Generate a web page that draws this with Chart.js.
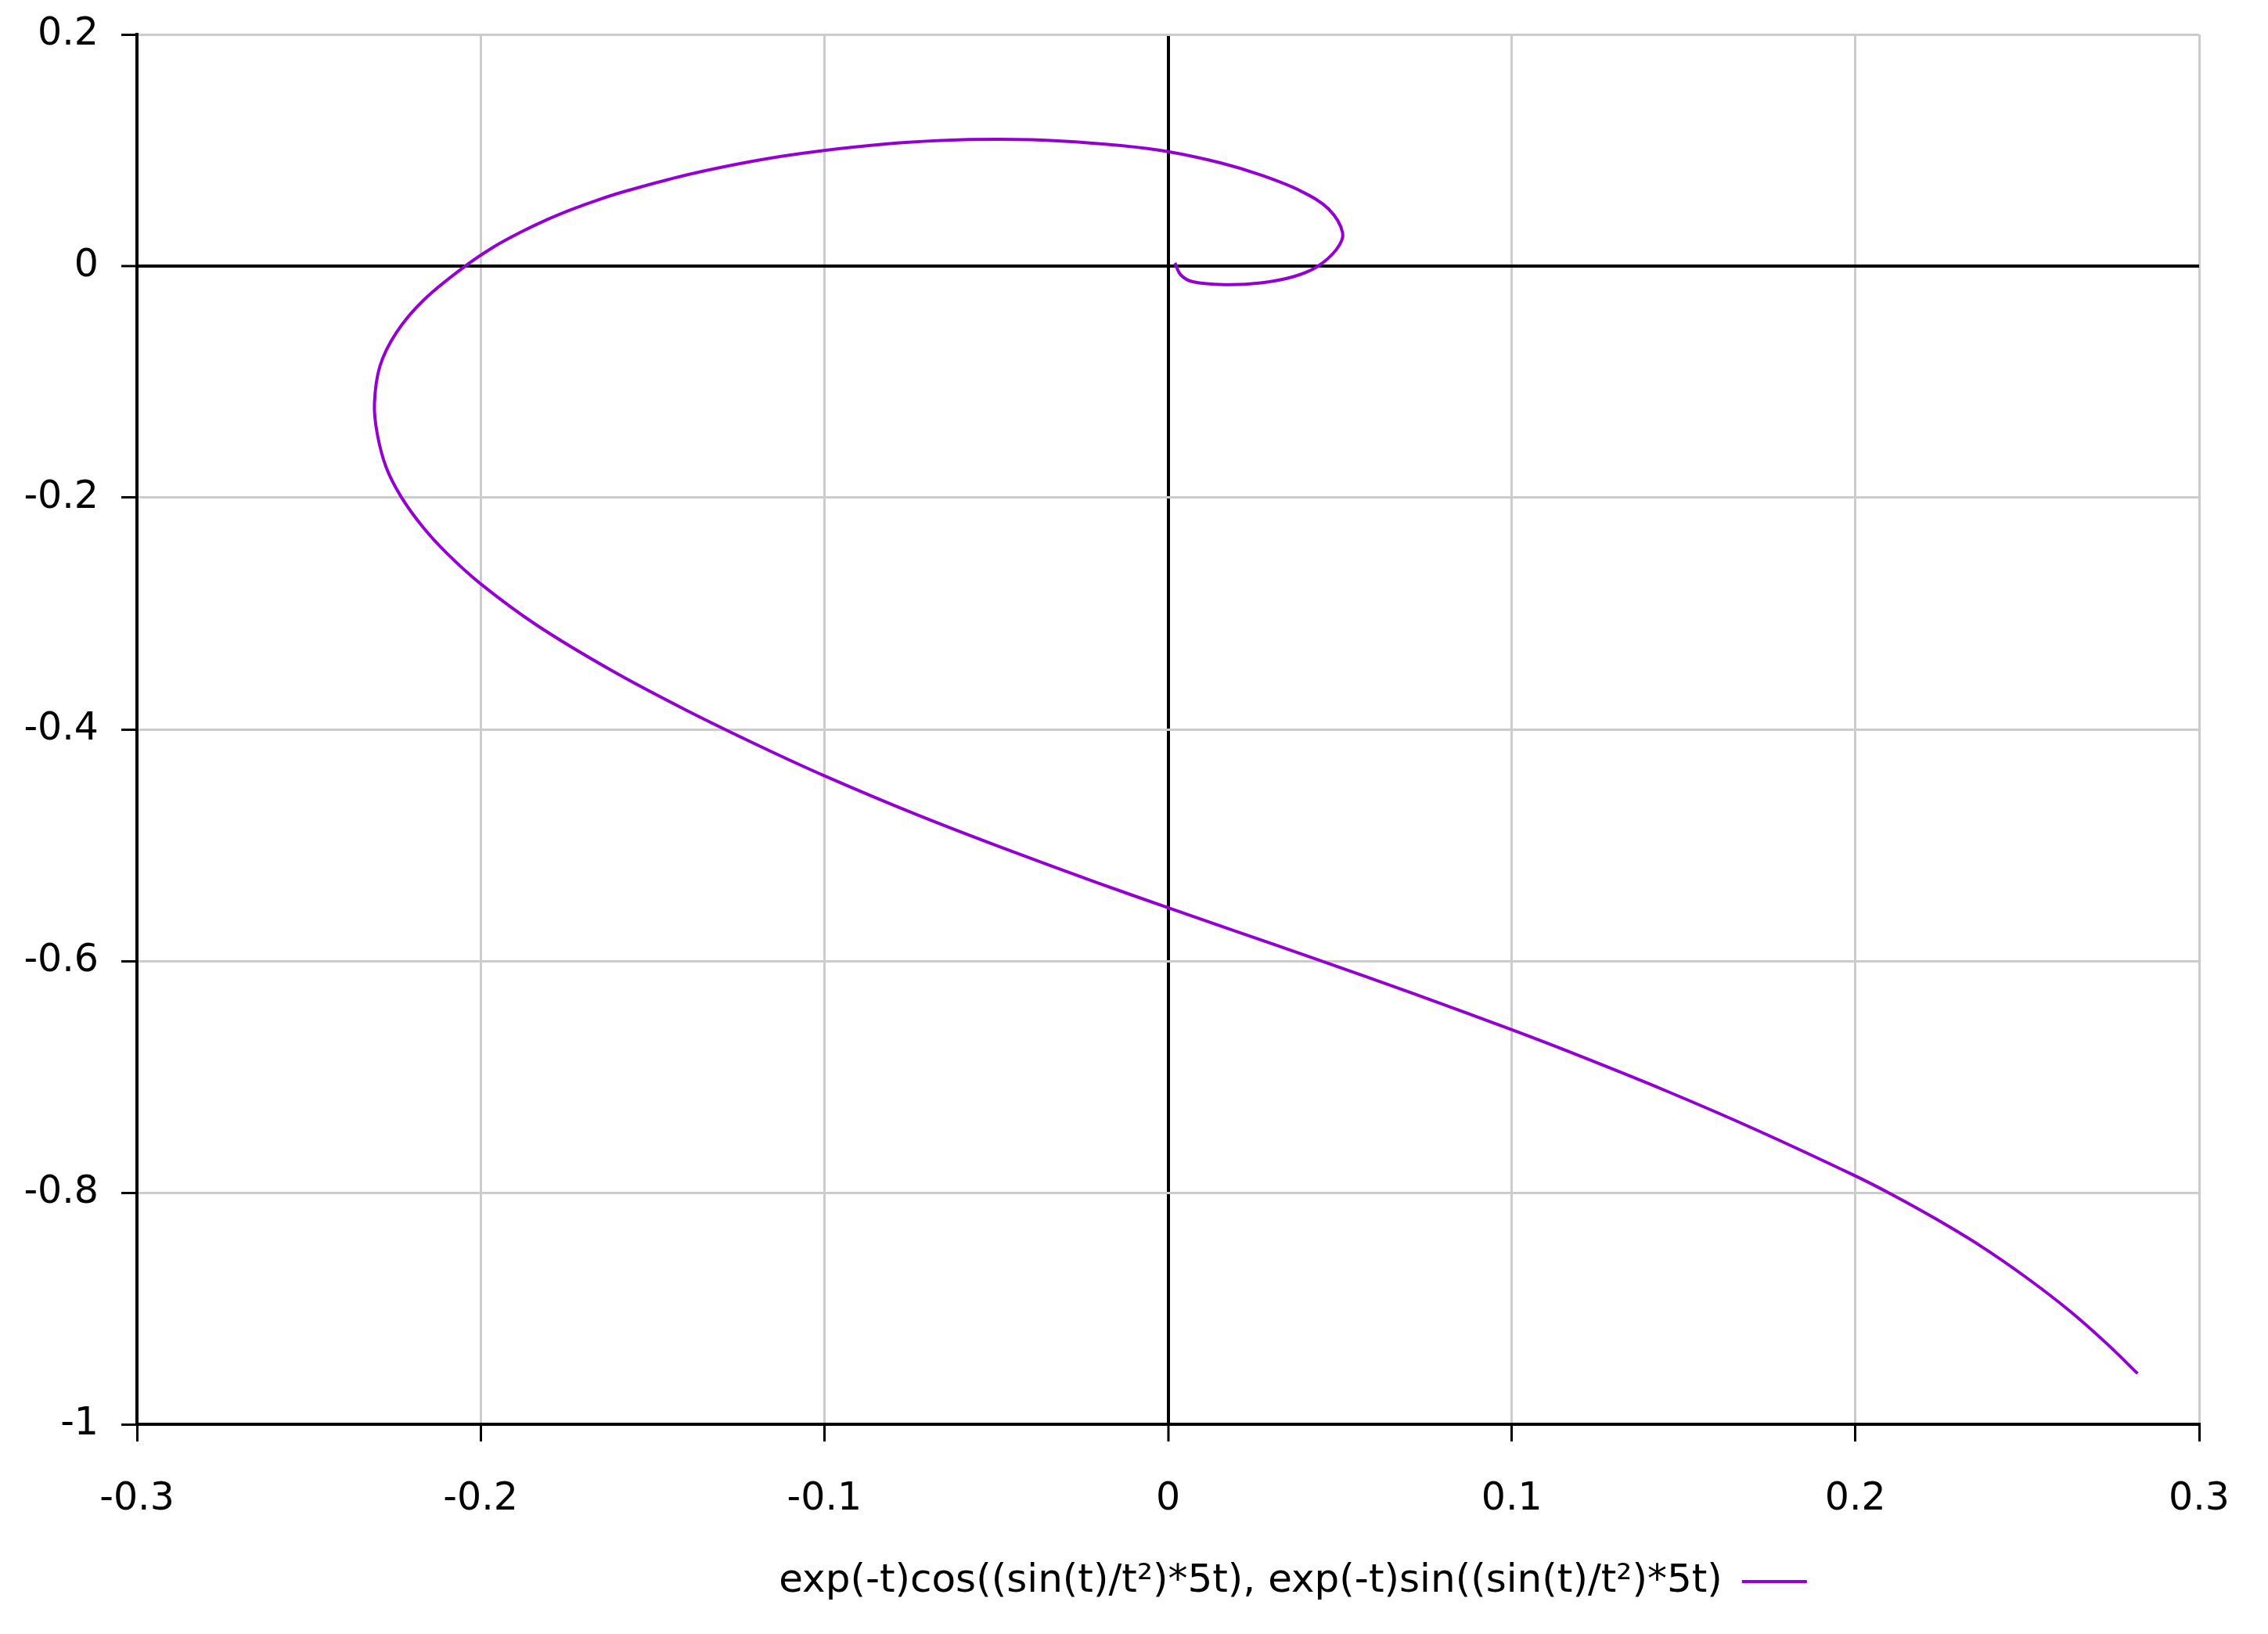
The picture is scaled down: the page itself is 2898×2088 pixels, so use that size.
<!DOCTYPE html>
<html>
<head>
<meta charset="utf-8">
<script src="https://cdn.jsdelivr.net/npm/chart.js@4.4.0/dist/chart.umd.min.js"></script>
<style>
  html, body { margin: 0; padding: 0; background: #fff; }
  #wrap { width: 2898px; height: 2088px; }
</style>
</head>
<body>
<div id="wrap"><canvas id="myChart" width="2898" height="2088"></canvas></div>
<script>
  // curve, from the far end (bottom right) into the centre
  var curveLabel = "exp(-t)cos((sin(t)/t²)*5t), exp(-t)sin((sin(t)/t²)*5t)";
  var curveX = [0.2821, 0.273, 0.2625, 0.2495, 0.2364, 0.2233, 0.2102, 0.1995, 0.171, 0.1448,
    0.1187, 0.0993, 0.0706, 0.0444, 0.0183, 0, -0.021, -0.0471, -0.0733, -0.1001,
    -0.1184, -0.1402, -0.162, -0.1838, -0.2002, -0.2098, -0.2168, -0.2232, -0.2275, -0.2301,
    -0.2309, -0.2293, -0.2245, -0.2167, -0.2048, -0.196, -0.1884, -0.1808, -0.1732, -0.1656,
    -0.158, -0.1428, -0.1277, -0.1125, -0.1, -0.0834, -0.066, -0.0486, -0.0311, -0.0137,
    0, 0.0154, 0.027, 0.0386, 0.0467, 0.0508, 0.0491, 0.0433, 0.0363, 0.027,
    0.0165, 0.0072, 0.0037, 0.002];
  var curveY = [-0.9562, -0.93, -0.9025, -0.8728, -0.846, -0.8225, -0.801, -0.7849, -0.7456, -0.712,
    -0.6807, -0.6586, -0.6273, -0.5997, -0.5729, -0.554, -0.532, -0.5035, -0.4734, -0.4399,
    -0.415, -0.3834, -0.349, -0.3098, -0.2739, -0.2481, -0.2254, -0.1989, -0.1737, -0.1446,
    -0.1187, -0.0863, -0.0573, -0.0297, -0.0007, 0.0169, 0.0292, 0.04, 0.0493, 0.0574,
    0.0645, 0.0767, 0.0866, 0.0947, 0.0999, 0.1051, 0.1084, 0.1094, 0.108, 0.104,
    0.0988, 0.089, 0.0786, 0.0648, 0.0493, 0.0286, 0.0148, -0.0007, -0.0093, -0.0145,
    -0.016, -0.0135, -0.0076, 0.0027];
  var xTicks = [-0.3, -0.2, -0.1, 0, 0.1, 0.2, 0.3];
  var yTicks = [-1, -0.8, -0.6, -0.4, -0.2, 0, 0.2];

  var points = curveX.map(function (x, i) { return { x: x, y: curveY[i] }; });

  Chart.defaults.font.family = "'DejaVu Sans', sans-serif";
  Chart.defaults.font.size = 49;
  Chart.defaults.color = "#000";

  function gridColor(ctx) { return ctx.tick && ctx.tick.value === 0 ? "#000" : "#cccccc"; }
  function gridWidth(ctx) { return ctx.tick && ctx.tick.value === 0 ? 4 : 3; }

  // gnuplot centres its key a bit right of the canvas middle
  var legendShift = {
    id: "legendShift",
    afterLayout: function (chart) {
      chart.legend.left += 247;
      chart.legend.right += 247;
    }
  };

  new Chart("myChart", {
    type: "scatter",
    data: {
      datasets: [{
        label: curveLabel,
        data: points,
        showLine: true,
        fill: false,
        borderColor: "#9400d3",
        backgroundColor: "#9400d3",
        borderWidth: 4,
        pointRadius: 0,
        tension: 0.35
      }]
    },
    options: {
      responsive: false,
      animation: false,
      layout: { padding: { top: 44, right: 88, bottom: 32, left: 0 } },
      plugins: {
        tooltip: { enabled: false },
        legend: {
          position: "bottom",
          rtl: true,
          textDirection: "ltr",
          labels: {
            usePointStyle: true,
            pointStyle: "line",
            pointStyleWidth: 83,
            padding: 10,
            color: "#000",
            font: { size: 50 }
          }
        }
      },
      scales: {
        x: {
          type: "linear",
          min: -0.3,
          max: 0.3,
          afterBuildTicks: function (s) { s.ticks = xTicks.map(function (v) { return { value: v }; }); },
          afterFit: function (s) { s.height = 166; },
          grid: { color: gridColor, lineWidth: gridWidth, tickLength: 22, tickColor: "#000", tickWidth: 3 },
          border: { color: "#000", width: 4 },
          ticks: { padding: 45, maxRotation: 0, autoSkip: false, callback: function (v) { return String(v); } }
        },
        y: {
          type: "linear",
          min: -1,
          max: 0.2,
          afterBuildTicks: function (s) { s.ticks = yTicks.map(function (v) { return { value: v }; }); },
          afterFit: function (s) { s.width = 175; },
          grid: { color: gridColor, lineWidth: gridWidth, tickLength: 20, tickColor: "#000", tickWidth: 3 },
          border: { color: "#000", width: 4 },
          ticks: { padding: 29, autoSkip: false, font: { lineHeight: 0.6 }, callback: function (v) { return String(v); } }
        }
      }
    },
    plugins: [legendShift]
  });
</script>
</body>
</html>
